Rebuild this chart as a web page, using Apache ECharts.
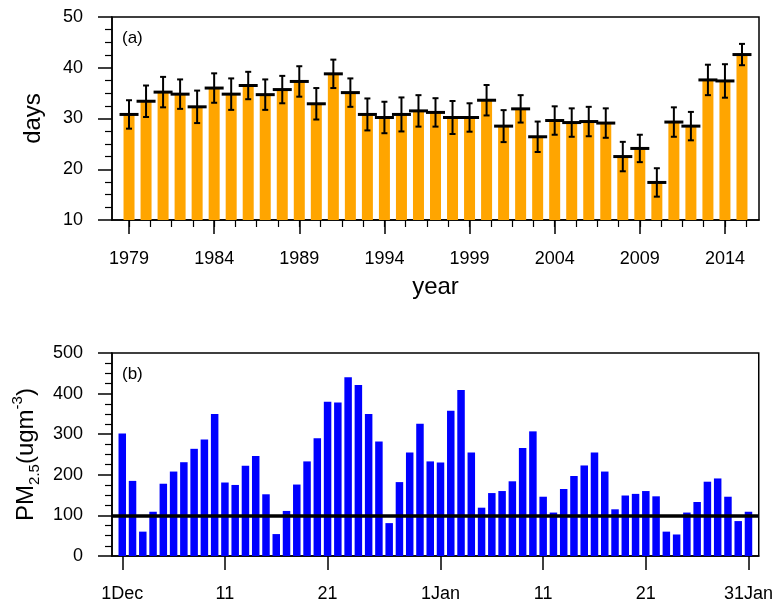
<!DOCTYPE html>
<html>
<head>
<meta charset="utf-8">
<script src="https://cdn.jsdelivr.net/npm/echarts@6/dist/echarts.min.js"></script>
<style>
  html, body { margin: 0; padding: 0; background: #fff; }
  #main { width: 776px; height: 607px; }
</style>
</head>
<body>
<div id="main"></div>
<script>
// (a) haze days per winter
let years = [1979, 1980, 1981, 1982, 1983, 1984, 1985, 1986, 1987, 1988, 1989, 1990, 1991, 1992, 1993, 1994, 1995, 1996, 1997,
    1998, 1999, 2000, 2001, 2002, 2003, 2004, 2005, 2006, 2007, 2008, 2009, 2010, 2011, 2012, 2013, 2014, 2015];
let days_mean = [30.8, 33.4, 35.2, 34.8, 32.3, 36.0, 34.8, 36.5, 34.7, 35.7, 37.3, 32.9, 38.8, 35.1, 30.8, 30.2, 30.8, 31.5, 31.2,
    30.2, 30.2, 33.6, 28.5, 31.9, 26.4, 29.6, 29.2, 29.4, 29.1, 22.5, 24.1, 17.4, 29.3, 28.5, 37.6, 37.4, 42.6];
let days_err = [2.8, 3.1, 3.0, 2.9, 3.2, 2.9, 3.1, 2.7, 3.0, 2.7, 3.0, 3.1, 2.8, 2.8, 3.15, 3.1, 3.35, 3.1, 2.8,
    3.25, 2.8, 3.0, 3.15, 2.7, 3.0, 2.8, 2.8, 2.9, 2.9, 2.9, 2.7, 2.8, 2.9, 2.8, 3.0, 3.3, 2.1];
let year_ticks = [1979, 1984, 1989, 1994, 1999, 2004, 2009, 2014];

// (b) daily PM2.5, 1 Dec - 31 Jan
let pm25 = [302, 185, 60, 109, 178, 208, 231, 264, 287, 350,
    181, 175, 222, 246, 152, 54, 111, 176, 233, 290,
    380, 378, 440, 421, 350, 282, 81, 182, 255, 326, 233,
    230, 358, 409, 255, 119, 155, 160, 184, 266, 307,
    146, 107, 165, 197, 223, 255, 208, 115, 149, 153,
    160, 147, 60, 53, 107, 133, 183, 191, 146, 86, 109];
let day_ticks = [1, 11, 21, 32, 42, 52, 62];
let day_tick_labels = ['1Dec', '11', '21', '1Jan', '11', '21', '31Jan'];
let pm_standard = 100;

let font = 'Liberation Sans';

// minor ticks of the year axis: 4 per 5 years
let year_minor = [];
for (let v = 1979; v <= 2016; v += 1.25) year_minor.push(v);

let bar_a = years.map(function (y, i) { return [y, days_mean[i]]; });
let err_a = years.map(function (y, i) { return [y, days_mean[i], days_err[i]]; });
let bar_b = pm25.map(function (v, i) { return [i + 1, v]; });

let myChart = echarts.init(document.getElementById('main'));

let axisLine = { show: true, lineStyle: { color: '#000', width: 1.5 } };
let labelStyle = { color: '#000', fontSize: 18, fontFamily: font };

var option = {
    animation: false,
    backgroundColor: '#fff',
    grid: [
        { left: 112, right: 17, top: 17, height: 203, show: true, borderColor: '#000', borderWidth: 1.5 },
        { left: 112, right: 17, top: 353, height: 203, show: true, borderColor: '#000', borderWidth: 1.5 }
    ],
    graphic: [
        { type: 'text', left: 122, top: 30, style: { text: '(a)', fontSize: 17, fontFamily: font, fill: '#000' } },
        { type: 'text', left: 122, top: 366, style: { text: '(b)', fontSize: 17, fontFamily: font, fill: '#000' } }
    ],
    xAxis: [
        {
            type: 'value', gridIndex: 0, min: 1978, max: 2016, position: 'bottom',
            axisLine: axisLine,
            splitLine: { show: false },
            axisTick: { show: true, inside: false, length: 14, lineStyle: { color: '#000', width: 1.5 }, customValues: year_ticks },
            axisLabel: Object.assign({ margin: 30, customValues: year_ticks, formatter: function (v) { return String(v); } }, labelStyle),
            name: 'year', nameLocation: 'middle', nameGap: 55,
            nameTextStyle: { color: '#000', fontSize: 24, fontFamily: font }
        },
        {
            type: 'value', gridIndex: 0, min: 1978, max: 2016, position: 'bottom',
            axisLine: { show: false },
            splitLine: { show: false },
            axisTick: { show: true, inside: false, length: 7, lineStyle: { color: '#000', width: 1.2 }, customValues: year_minor },
            axisLabel: { show: false }
        },
        {
            type: 'value', gridIndex: 1, min: 0, max: 63, position: 'bottom',
            axisLine: axisLine,
            splitLine: { show: false },
            axisTick: { show: true, inside: false, length: 14, lineStyle: { color: '#000', width: 1.5 }, customValues: day_ticks },
            axisLabel: Object.assign({
                margin: 29, customValues: day_ticks,
                formatter: function (v) { return day_tick_labels[day_ticks.indexOf(v)]; }
            }, labelStyle)
        }
    ],
    yAxis: [
        {
            type: 'value', gridIndex: 0, min: 10, max: 50, interval: 10,
            axisLine: axisLine,
            splitLine: { show: false },
            axisTick: { show: true, inside: false, length: 14, lineStyle: { color: '#000', width: 1.5 } },
            minorTick: { show: true, splitNumber: 4, length: 7, lineStyle: { color: '#000', width: 1.2 } },
            axisLabel: Object.assign({ margin: 29 }, labelStyle),
            name: 'days', nameLocation: 'middle', nameRotate: 90, nameGap: 67,
            nameTextStyle: { color: '#000', fontSize: 24, fontFamily: font }
        },
        {
            type: 'value', gridIndex: 1, min: 0, max: 500, interval: 100,
            axisLine: axisLine,
            splitLine: { show: false },
            axisTick: { show: true, inside: false, length: 14, lineStyle: { color: '#000', width: 1.5 } },
            minorTick: { show: true, splitNumber: 4, length: 7, lineStyle: { color: '#000', width: 1.2 } },
            axisLabel: Object.assign({ margin: 29 }, labelStyle),
            name: '{a|PM}{s|2.5}{a|(ugm}{p|-3}{a|)}', nameLocation: 'middle', nameRotate: 90, nameGap: 70,
            nameTextStyle: {
                color: '#000', fontSize: 24, fontFamily: font,
                rich: {
                    a: { fontSize: 24, fontFamily: font, color: '#000', lineHeight: 32, verticalAlign: 'middle' },
                    s: { fontSize: 15, fontFamily: font, color: '#000', lineHeight: 15, verticalAlign: 'bottom' },
                    p: { fontSize: 15, fontFamily: font, color: '#000', lineHeight: 15, verticalAlign: 'top' }
                }
            }
        }
    ],
    series: [
        {
            type: 'bar', xAxisIndex: 0, yAxisIndex: 0,
            data: bar_a, barWidth: 11,
            itemStyle: { color: '#FFA500' }
        },
        {
            type: 'custom', xAxisIndex: 0, yAxisIndex: 0,
            data: err_a,
            z: 5,
            renderItem: function (params, api) {
                let x = api.value(0), m = api.value(1), e = api.value(2);
                let c = api.coord([x, m]);
                let hi = api.coord([x, m + e]);
                let lo = api.coord([x, m - e]);
                let st = { stroke: '#000', lineWidth: 2 };
                return {
                    type: 'group',
                    children: [
                        { type: 'line', shape: { x1: c[0], y1: hi[1], x2: c[0], y2: lo[1] }, style: st },
                        { type: 'line', shape: { x1: c[0] - 3, y1: hi[1], x2: c[0] + 3, y2: hi[1] }, style: st },
                        { type: 'line', shape: { x1: c[0] - 3, y1: lo[1], x2: c[0] + 3, y2: lo[1] }, style: st },
                        { type: 'line', shape: { x1: c[0] - 9.5, y1: c[1], x2: c[0] + 9.5, y2: c[1] }, style: { stroke: '#000', lineWidth: 3 } }
                    ]
                };
            }
        },
        {
            type: 'bar', xAxisIndex: 2, yAxisIndex: 1,
            data: bar_b, barWidth: 7.5,
            itemStyle: { color: '#0000FF' },
            markLine: {
                silent: true, symbol: 'none', label: { show: false },
                lineStyle: { color: '#000', width: 3.5, type: 'solid' },
                data: [{ yAxis: pm_standard }]
            }
        }
    ]
};

myChart.setOption(option);
</script>
</body>
</html>
